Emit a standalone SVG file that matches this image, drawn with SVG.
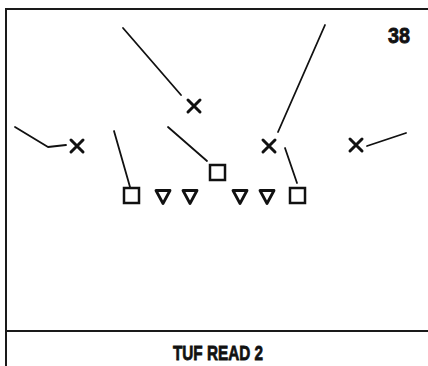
<svg xmlns="http://www.w3.org/2000/svg" width="428" height="366" viewBox="0 0 428 366">
<style>
.frame{stroke:#1a1a1a;stroke-width:2;fill:none}
.route{stroke:#111;stroke-width:1.8;fill:none;stroke-linecap:round;stroke-linejoin:round}
.x{stroke:#111;stroke-width:3;fill:none;stroke-linecap:round}
.sq{stroke:#111;stroke-width:2.5;fill:#fff}
.tri{stroke:#111;stroke-width:2.8;fill:#fff;stroke-linejoin:round}
.lbl{font-family:"Liberation Sans Narrow","Liberation Sans",Arial,sans-serif;font-weight:bold;fill:#111;stroke:#111;stroke-width:0.8}
</style>
<defs>
<path id="xm" d="M-6,-6L6,6M6,-6L-6,6"/>
<path id="tr" d="M-7,-6.5L7,-6.5L0,6.5Z"/>
</defs>
<rect width="428" height="366" fill="#fff"/>
<g id="frame">
<path class="frame" d="M6,366V9H428"/>
<path class="frame" d="M6,331H428"/>
</g>
<g id="connectors">
<path class="route" d="M15,127L48,147L66,145"/>
<path class="route" d="M123,28L181,95"/>
<path class="route" d="M325,25L278,132"/>
<path class="route" d="M367,146L406,133"/>
<path class="route" d="M114,131L130,187"/>
<path class="route" d="M168,127L207,161"/>
<path class="route" d="M285,148L297,183"/>
</g>
<g id="x-left"><use href="#xm" class="x" x="77" y="146"/></g>
<g id="x-top"><use href="#xm" class="x" x="194" y="106"/></g>
<g id="x-mid"><use href="#xm" class="x" x="269" y="146"/></g>
<g id="x-right"><use href="#xm" class="x" x="356" y="145"/></g>
<g id="sq-left"><rect class="sq" x="124" y="188" width="15" height="15"/></g>
<g id="sq-center"><rect class="sq" x="210" y="165" width="15" height="15"/></g>
<g id="sq-right"><rect class="sq" x="290" y="188" width="15" height="15"/></g>
<g id="tri-1"><use href="#tr" class="tri" x="163" y="197"/></g>
<g id="tri-2"><use href="#tr" class="tri" x="190" y="197"/></g>
<g id="tri-3"><use href="#tr" class="tri" x="240" y="197"/></g>
<g id="tri-4"><use href="#tr" class="tri" x="267" y="197"/></g>
<g id="num"><text class="lbl" x="399" y="43" font-size="22" text-anchor="middle" textLength="22" lengthAdjust="spacingAndGlyphs">38</text></g>
<g id="title"><text class="lbl" x="218" y="360" font-size="21" text-anchor="middle" textLength="90" lengthAdjust="spacingAndGlyphs">TUF READ 2</text></g>
</svg>
